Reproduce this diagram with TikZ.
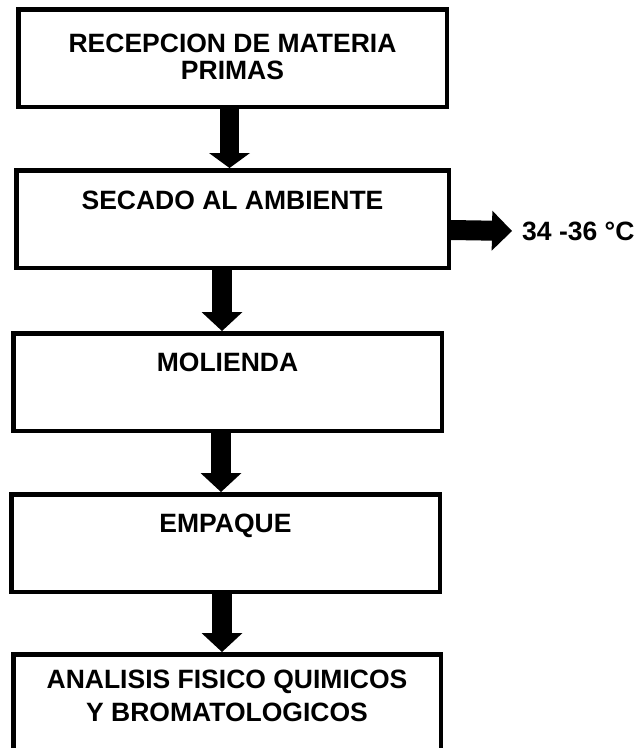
\documentclass[tikz,border=0pt]{standalone}
\usepackage{fontspec}
\setmainfont{Liberation Sans}
\usetikzlibrary{arrows.meta,calc}
\begin{document}
\begin{tikzpicture}[x=1pt,y=1pt,
  box/.style={draw, line width=4.5pt, inner sep=0pt, align=center,
    font=\bfseries\fontsize{26.5}{24}\selectfont, minimum height=97.5pt},
  blockarrow/.style={line width=19.5pt, -{Triangle[width=41pt,length=19pt,line width=0pt]}},
  lbl/.style={font=\bfseries\fontsize{26.5}{24}\selectfont}]
\useasboundingbox (0,0) rectangle (636,-748);
\node[box, minimum width=428.5pt, text height=69.75pt, text depth=27.75pt,
  font=\bfseries\fontsize{26.5}{27}\selectfont] (b1) at (232.5,-58) {RECEPCION DE MATERIA\\PRIMAS};
\node[box, minimum width=432.5pt, text height=38.75pt, text depth=58.75pt] (b2) at (232.5,-219) {SECADO AL AMBIENTE};
\node[box, minimum width=428.5pt, text height=37.75pt, text depth=59.75pt] (b3) at (227.5,-382) {MOLIENDA};
\node[box, minimum width=428.5pt, text height=37.75pt, text depth=59.75pt] (b4) at (225.5,-543) {EMPAQUE};
\node[box, minimum width=427.5pt, text height=67.25pt, text depth=30.25pt,
  font=\bfseries\fontsize{26.5}{33}\selectfont] (b5) at (227,-703) {ANALISIS FISICO QUIMICOS\\Y BROMATOLOGICOS};
\node[lbl, anchor=west, inner xsep=10pt, inner ysep=0pt] (t) at (512,-231) {34 -36 °C};
\draw[line width=19pt, -{Triangle[width=41pt,length=15pt,line width=0pt]}] ($(b1.south)+(-3,0)$) -- ($(b2.north)+(-3,0)$);
\draw[blockarrow] ($(b2.south)+(-10.5,0)$) -- ($(b3.north)+(-5.5,0)$);
\draw[blockarrow] ($(b3.south)+(-6.5,0)$) -- ($(b4.north)+(-4.5,0)$);
\draw[blockarrow] ($(b4.south)+(-3.5,0)$) -- ($(b5.north)+(-5,0)$);
\draw[line width=20pt, -{Triangle[width=40pt,length=20pt,line width=0pt]}] ($(b2.east)+(0,-11)$) -- (t.west);
\end{tikzpicture}
\end{document}
